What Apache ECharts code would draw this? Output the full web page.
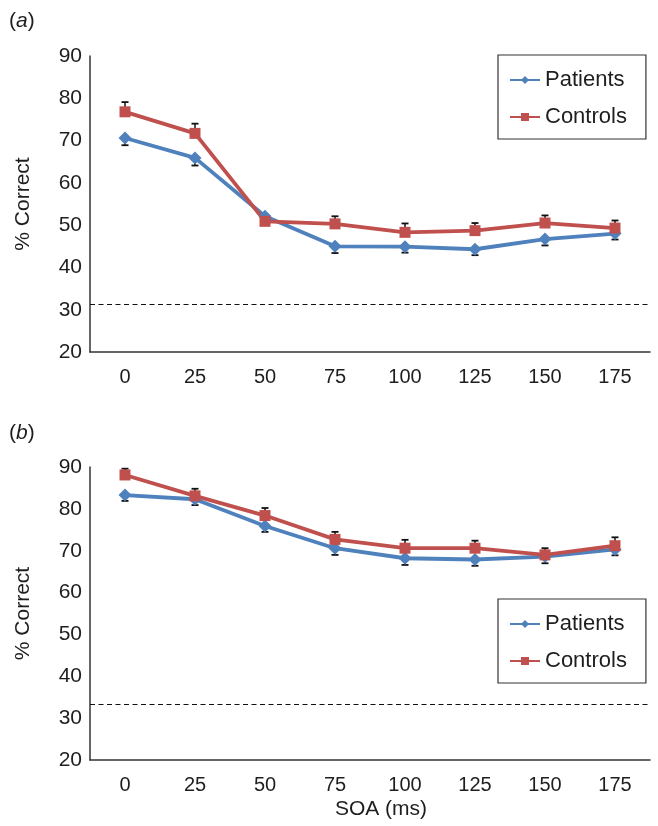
<!DOCTYPE html>
<html>
<head>
<meta charset="utf-8">
<script src="https://cdn.jsdelivr.net/npm/echarts@6/dist/echarts.min.js"></script>
<style>
html,body{margin:0;padding:0;background:#fff;}
#chart{width:658px;height:826px;}
</style>
</head>
<body>
<div id="chart"></div>
<script>
const soa = ['0', '25', '50', '75', '100', '125', '150', '175'];
const patientsA = [70.6, 65.9, 52.1, 45.0, 44.9, 44.3, 46.7, 48.0];
const controlsA = [76.8, 71.7, 50.9, 50.3, 48.3, 48.7, 50.5, 49.3];
const patientsAErr = [1.7, 1.8, 1.5, 1.6, 1.4, 1.4, 1.5, 1.4];
const controlsAErr = [2.3, 2.3, 1.5, 1.8, 2.1, 1.8, 1.8, 1.8];
const patientsB = [83.3, 82.3, 75.9, 70.6, 68.2, 67.9, 68.6, 70.3];
const controlsB = [88.1, 83.1, 78.4, 72.7, 70.6, 70.6, 69.0, 71.2];
const patientsBErr = [1.4, 1.4, 1.4, 1.6, 1.6, 1.5, 1.6, 1.4];
const controlsBErr = [1.5, 1.7, 1.8, 1.8, 2.0, 1.8, 1.6, 2.0];
const chanceA = 31.2;
const chanceB = 33.3;
const yMin = 20, yMax = 90, yStep = 10;

const FONT = '"Liberation Sans", Arial, sans-serif';
const BLUE = '#4F81BD';
const RED = '#C0504D';
const INK = '#1e1e1e';

const chart = echarts.init(document.getElementById('chart'), null, {renderer: 'canvas'});

function errData(vals, errs, dir) {
  return vals.map((v, i) => [i, v, errs[i] * dir]);
}
function errSeries(idx, vals, errs, dir) {
  return {
    type: 'custom',
    xAxisIndex: idx, yAxisIndex: idx,
    z: 1,
    silent: true,
    data: errData(vals, errs, dir),
    renderItem: function (params, api) {
      const i = api.value(0);
      const v = api.value(1);
      const e = api.value(2);
      const p0 = api.coord([i, v]);
      const p1 = api.coord([i, v + e]);
      const hw = 3.5;
      return {
        type: 'group',
        children: [
          {type: 'line', shape: {x1: p0[0], y1: p0[1], x2: p1[0], y2: p1[1]}, style: {stroke: '#111', lineWidth: 1.5}},
          {type: 'line', shape: {x1: p1[0] - hw, y1: p1[1], x2: p1[0] + hw, y2: p1[1]}, style: {stroke: '#111', lineWidth: 1.8}}
        ]
      };
    }
  };
}
function lineSeries(idx, name, vals, color, symbol, size, chance) {
  const s = {
    name: name,
    type: 'line',
    xAxisIndex: idx, yAxisIndex: idx,
    data: vals,
    z: 3,
    symbol: symbol,
    symbolSize: size,
    showAllSymbol: true,
    lineStyle: {color: color, width: 3.8},
    itemStyle: {color: color, borderWidth: 0},
    emphasis: {disabled: true}
  };
  if (chance !== undefined) {
    s.markLine = {
      silent: true,
      symbol: ['none', 'none'],
      label: {show: false},
      lineStyle: {color: '#111', type: [5, 3.5], width: 1.2},
      data: [{yAxis: chance}]
    };
  }
  return s;
}
function xAxis(idx, withName) {
  const a = {
    type: 'category', gridIndex: idx, data: soa, boundaryGap: true,
    axisTick: {show: false},
    axisLine: {lineStyle: {color: '#333', width: 1.5}},
    axisLabel: {fontSize: 20, color: INK, margin: 15, fontFamily: FONT}
  };
  if (withName) {
    a.name = 'SOA (ms)';
    a.nameLocation = 'middle';
    a.nameGap = 39;
    a.nameTextStyle = {fontSize: 21, color: INK, fontFamily: FONT, padding: [0, 0, 0, 22]};
  }
  return a;
}
function yAxis(idx) {
  return {
    type: 'value', gridIndex: idx, min: yMin, max: yMax, interval: yStep,
    splitLine: {show: false},
    axisTick: {show: false},
    axisLine: {show: true, lineStyle: {color: '#333', width: 1.5}},
    axisLabel: {fontSize: 21, color: INK, margin: 8, fontFamily: FONT},
    name: '% Correct', nameLocation: 'middle', nameGap: 56,
    nameTextStyle: {fontSize: 21, color: INK, fontFamily: FONT}
  };
}
function legend(idx, top) {
  return {
    orient: 'vertical', left: 498, top: top,
    data: idx === 0 ? ['Patients', 'Controls'] : ['Patients2', 'Controls2'],
    borderColor: '#333', borderWidth: 1.2, borderRadius: 0,
    padding: [14, 19, 11, 11],
    itemGap: 15, itemWidth: 30, itemHeight: 10,
    textStyle: {fontSize: 22, color: INK, fontFamily: FONT},
    formatter: n => n.replace('2', ''),
    selectedMode: false
  };
}

const option = {
  animation: false,
  backgroundColor: '#fff',
  textStyle: {fontFamily: FONT},
  title: [
    {text: '({i|a})', left: 4, top: 6, textStyle: {fontSize: 21, fontWeight: 'normal', color: INK, fontFamily: FONT, rich: {i: {fontStyle: 'italic', fontSize: 21, color: INK, fontFamily: FONT}}}},
    {text: '({i|b})', left: 4, top: 418, textStyle: {fontSize: 21, fontWeight: 'normal', color: INK, fontFamily: FONT, rich: {i: {fontStyle: 'italic', fontSize: 21, color: INK, fontFamily: FONT}}}}
  ],
  legend: [legend(0, 55), legend(1, 599)],
  grid: [
    {left: 90, top: 56, width: 560, height: 296},
    {left: 90, top: 467, width: 560, height: 293}
  ],
  xAxis: [xAxis(0, false), xAxis(1, true)],
  yAxis: [yAxis(0), yAxis(1)],
  series: [
    errSeries(0, patientsA, patientsAErr, -1),
    errSeries(0, controlsA, controlsAErr, 1),
    lineSeries(0, 'Patients', patientsA, BLUE, 'diamond', 13, chanceA),
    lineSeries(0, 'Controls', controlsA, RED, 'rect', 11),
    errSeries(1, patientsB, patientsBErr, -1),
    errSeries(1, controlsB, controlsBErr, 1),
    lineSeries(1, 'Patients2', patientsB, BLUE, 'diamond', 13, chanceB),
    lineSeries(1, 'Controls2', controlsB, RED, 'rect', 11)
  ]
};
chart.setOption(option);
</script>
</body>
</html>
